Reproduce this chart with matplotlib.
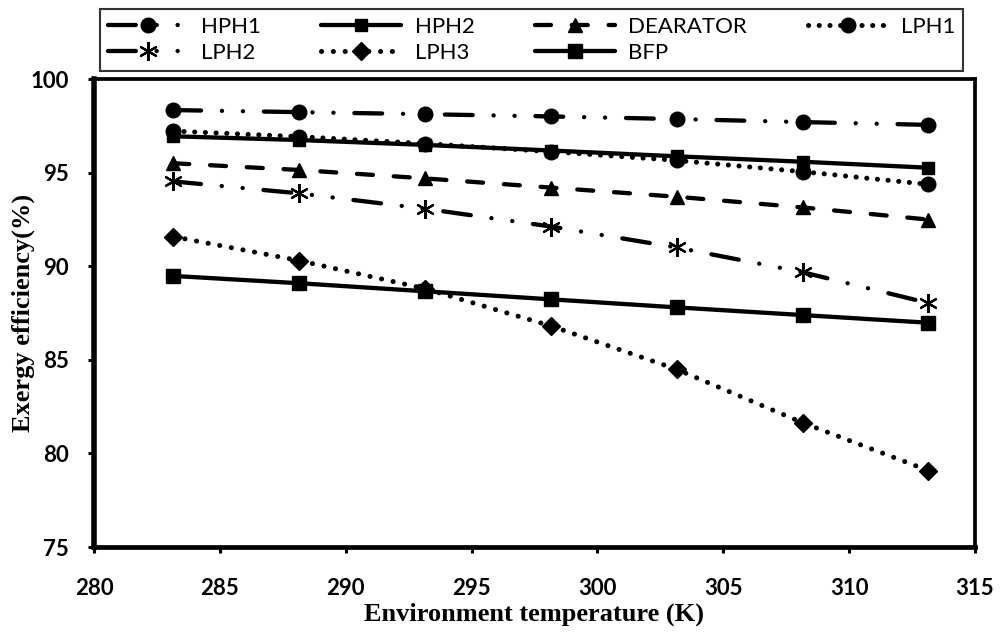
import matplotlib
matplotlib.use("Agg")
import matplotlib.pyplot as plt

plt.rcParams['lines.scale_dashes'] = False

temps = [283.15, 288.15, 293.15, 298.15, 303.15, 308.15, 313.15]
hph1 = [98.34, 98.23, 98.12, 98.00, 97.86, 97.70, 97.55]
hph2 = [96.94, 96.74, 96.48, 96.18, 95.87, 95.58, 95.26]
dearator = [95.50, 95.14, 94.69, 94.20, 93.71, 93.14, 92.49]
lph1 = [97.22, 96.92, 96.55, 96.12, 95.65, 95.05, 94.37]
lph2 = [94.53, 93.89, 93.07, 92.12, 91.00, 89.68, 88.03]
lph3 = [91.58, 90.30, 88.80, 86.81, 84.49, 81.64, 79.08]
bfp = [89.48, 89.09, 88.66, 88.23, 87.80, 87.39, 86.98]

names = ["HPH1", "HPH2", "DEARATOR", "LPH1", "LPH2", "LPH3", "BFP"]
xticks = [280, 285, 290, 295, 300, 305, 310, 315]
yticks = [75, 80, 85, 90, 95, 100]

fig = plt.figure(figsize=(10.01, 6.43), dpi=100)
ax = fig.add_axes([94/1001, 1-547/643, (975-94)/1001, (547-79)/643])

lw = 3.1
dashdotdot = (0, (20, 15, 0.1, 15, 0.1, 15))
common = dict(color='black', solid_capstyle='round', dash_capstyle='round')

l_hph1, = ax.plot(temps, hph1, linestyle=dashdotdot, lw=lw, marker='o', ms=10.5, **common)
l_hph2, = ax.plot(temps, hph2, linestyle='-', lw=lw, marker='s', ms=8.5, **common)
l_dea, = ax.plot(temps, dearator, linestyle=(0, (11.5, 15)), lw=lw, marker='^', ms=10.5, **common)
l_lph1, = ax.plot(temps, lph1, linestyle=(0, (0.1, 7.6)), lw=3.6, marker='o', ms=10.5, **common)
l_lph2, = ax.plot(temps, lph2, linestyle=dashdotdot, lw=lw, marker=(6, 2, 0), ms=13.5,
                  mew=1.6, **common)
l_lph3, = ax.plot(temps, lph3, linestyle=(0, (0.1, 8.4)), lw=3.6, marker='D', ms=9.5, **common)
l_bfp, = ax.plot(temps, bfp, linestyle='-', lw=lw, marker='s', ms=10.5, **common)

ax.set_xlim(280, 315)
ax.set_ylim(75, 100)
ax.set_xticks(xticks)
ax.set_yticks(yticks)
tickfont = dict(family='Lato', weight='bold', size=16)
ax.set_xticklabels([str(t) for t in xticks], fontdict=tickfont)
ax.set_yticklabels([str(t) for t in yticks], fontdict=tickfont)
ax.tick_params(direction='out', length=4, width=2.2, color='black')
ax.tick_params(axis='y', pad=14)
ax.tick_params(axis='x', pad=18)

ax.spines['left'].set_linewidth(4.0)
ax.spines['bottom'].set_linewidth(3.4)
ax.spines['top'].set_linewidth(2.7)
ax.spines['right'].set_linewidth(2.7)

ax.set_xlabel("Environment temperature (K)", family='Liberation Serif',
              weight='bold', size=19, labelpad=3)
ax.set_ylabel("Exergy efficiency(%)", family='Liberation Serif',
              weight='bold', size=19, labelpad=-3)

handles = [l_hph1, l_lph2, l_hph2, l_lph3, l_dea, l_bfp, l_lph1]
labels = ["HPH1", "LPH2", "HPH2", "LPH3", "DEARATOR", "BFP", "LPH1"]
leg = fig.legend(handles, labels, ncol=4, loc='lower left',
                 bbox_to_anchor=(100/1001, 1-71/643, 863/1001, 66/643),
                 mode='expand', frameon=True, fancybox=False, borderaxespad=0,
                 handlelength=3.6, handletextpad=0.6, numpoints=1,
                 prop=dict(family='Lato', size=16), labelspacing=0.3,
                 borderpad=0.35)
leg.get_frame().set_edgecolor('black')
leg.get_frame().set_linewidth(1.5)

fig.savefig("out.png", dpi=100)
